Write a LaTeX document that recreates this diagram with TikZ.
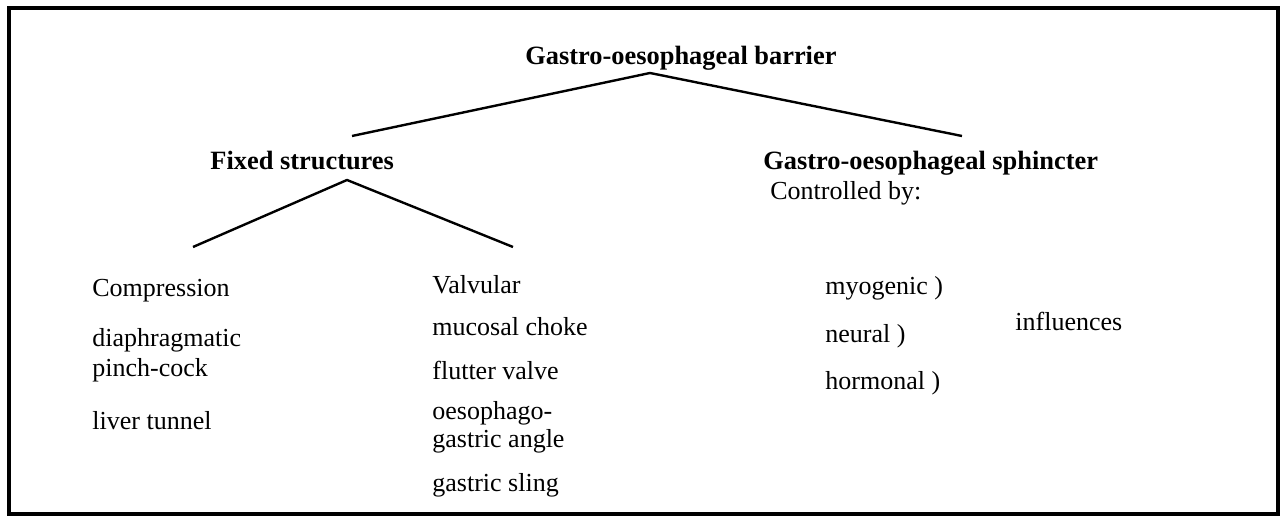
\documentclass[tikz,border=0pt]{standalone}
\usepackage{fontspec}
\setmainfont{Liberation Serif}
\begin{document}
\begin{tikzpicture}[x=0.5pt,y=-0.5pt,
  txt/.style={anchor=base west,inner sep=0pt,font=\fontsize{13}{15}\selectfont},
  hdr/.style={txt,font=\fontsize{13.2}{15}\selectfont\bfseries},
  branch/.style={line width=1.2pt,line join=round}]
\useasboundingbox (0,0) rectangle (1282,522);
\draw[line width=1.8pt] (9,8) rectangle (1278,514);
% headings
\node[hdr] (barrier) at (525,65) {Gastro-oesophageal barrier};
\node[hdr] (fixed) at (210,170) {Fixed structures};
\node[hdr] (sphincter) at (763,170) {Gastro-oesophageal sphincter};
\node[txt] (ctrl) at (770,200) {Controlled by:};
% branch points
\coordinate (barriertop) at (650,73);
\coordinate (barrierl) at (352,136);
\coordinate (barrierr) at (962,136);
\coordinate (fixedtop) at (347,180);
\coordinate (fixedl) at (193,247);
\coordinate (fixedr) at (513,247);
\draw[branch] (barrierl) -- (barriertop) -- (barrierr);
\draw[branch] (fixedl) -- (fixedtop) -- (fixedr);
% compression
\node[txt] (compr) at (92,297) {Compression};
\node[txt] (diaph) at (92,347) {diaphragmatic};
\node[txt] (pinch) at (92,377) {pinch-cock};
\node[txt] (liver) at (92,430) {liver tunnel};
% valvular
\node[txt] (valv) at (432,294) {Valvular};
\node[txt] (mucosal) at (432,336) {mucosal choke};
\node[txt] (flutter) at (432,380) {flutter valve};
\node[txt] (oeso) at (432,420) {oesophago-};
\node[txt] (angle) at (432,448) {gastric angle};
\node[txt] (sling) at (432,492) {gastric sling};
% sphincter control
\node[txt] (myo) at (825,295) {myogenic )};
\node[txt] (neural) at (825,343) {neural )};
\node[txt] (hormonal) at (825,390) {hormonal )};
\node[txt] (infl) at (1015,331) {influences};
\end{tikzpicture}
\end{document}
